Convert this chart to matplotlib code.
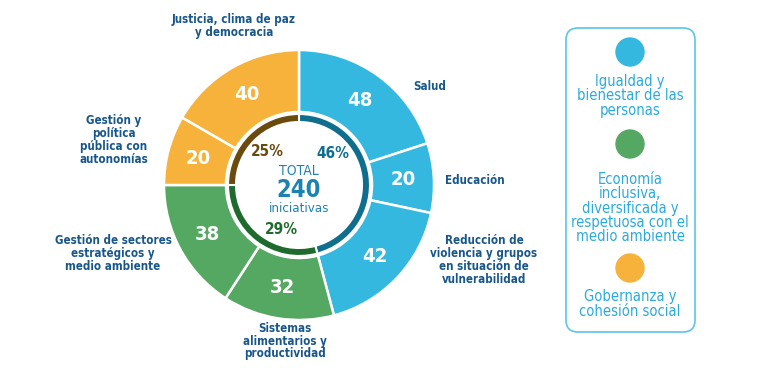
import matplotlib.pyplot as plt
from matplotlib.patches import FancyBboxPatch, Circle

# Data
sectors = ["Salud", "Educación",
           "Reducción de\nviolencia y grupos\nen situación de\nvulnerabilidad",
           "Sistemas\nalimentarios y\nproductividad",
           "Gestión de sectores\nestratégicos y\nmedio ambiente",
           "Gestión y\npolítica\npública con\nautonomías",
           "Justicia, clima de paz\ny democracia"]
counts = [48, 20, 42, 32, 38, 20, 40]
sector_colors = ["#35B8E0", "#35B8E0", "#35B8E0", "#55A862", "#55A862", "#F6B23B", "#F6B23B"]

groups = ["Igualdad y\nbienestar de las\npersonas",
          "Economía\ninclusiva,\ndiversificada y\nrespetuosa con el\nmedio ambiente",
          "Gobernanza y\ncohesión social"]
group_totals = [110, 70, 60]
group_pct = ["46%", "29%", "25%"]
group_colors = ["#35B8E0", "#55A862", "#F6B23B"]
group_dark = ["#0F6E8D", "#1F6B2D", "#6B4A0E"]

# label positions in pixels (x, y from top)
label_pos = [(413, 87, "left"), (475, 181, "center"), (484, 260, "center"),
             (285, 341, "center"), (113, 254, "center"), (114, 140, "center"),
             (234, 26, "center")]
pct_pos = [(333, 153), (281, 230), (267, 152)]

W, H = 768, 371
fig = plt.figure(figsize=(W / 100, H / 100), dpi=100)

cx, cy, R = 299, 185, 135
half = 140
ax = fig.add_axes([(cx - half) / W, (H - cy - half) / H, 2 * half / W, 2 * half / H])

wedges, _, autotexts = ax.pie(counts, colors=sector_colors, startangle=90, counterclock=False,
                              radius=1, autopct=lambda p: "%d" % round(p * sum(counts) / 100),
                              pctdistance=0.77,
                              wedgeprops=dict(width=1 - 73 / R, edgecolor="white", linewidth=1.8),
                              textprops=dict(color="white", fontsize=14.5, fontweight="bold",
                                             fontstretch="condensed"))
ax.pie(group_totals, colors=group_dark, startangle=90, counterclock=False,
       radius=71 / R, wedgeprops=dict(width=8 / R, edgecolor="white", linewidth=1.5))
ax.set_xlim(-half / R, half / R)
ax.set_ylim(-half / R, half / R)
ax.set_aspect("equal")
ax.axis("off")

# overlay in pixel coords
ov = fig.add_axes([0, 0, 1, 1])
ov.set_xlim(0, W)
ov.set_ylim(H, 0)
ov.axis("off")

label_color = "#18578A"
for name, (x, y, ha) in zip(sectors, label_pos):
    ov.text(x, y, name, ha=ha, va="center", fontsize=8.3, fontweight="bold",
            color=label_color, linespacing=1.0, fontstretch="condensed",
            family="DejaVu Sans")

for pct, (x, y), c in zip(group_pct, pct_pos, group_dark):
    ov.text(x, y, pct, ha="center", va="center", fontsize=11, fontweight="bold", color=c,
            fontstretch="condensed")

center_color = "#1C83B0"
ov.text(cx, 171, "TOTAL", ha="center", va="center", fontsize=10, color=center_color,
        fontstretch="condensed")
ov.text(cx, 190, "240", ha="center", va="center", fontsize=17, fontweight="bold",
        color=center_color, fontstretch="condensed")
ov.text(cx, 209, "iniciativas", ha="center", va="center", fontsize=9.5, color=center_color,
        fontstretch="condensed")

# legend box
box = FancyBboxPatch((566, 28), 129, 304, boxstyle="round,pad=0,rounding_size=12",
                     facecolor="white", edgecolor="#5EC4EA", linewidth=1.2)
ov.add_patch(box)
leg_circle_y = [52, 144, 268]
leg_text_y = [96, 208, 304]
legend_text = "#2AAADD"
for g, c, yc, yt in zip(groups, group_colors, leg_circle_y, leg_text_y):
    ov.add_patch(Circle((630, yc), 14, color=c))
    ov.text(630, yt, g, ha="center", va="center", fontsize=10.5, color=legend_text,
            linespacing=0.95, fontstretch="condensed")

fig.savefig("out.png", dpi=100)
